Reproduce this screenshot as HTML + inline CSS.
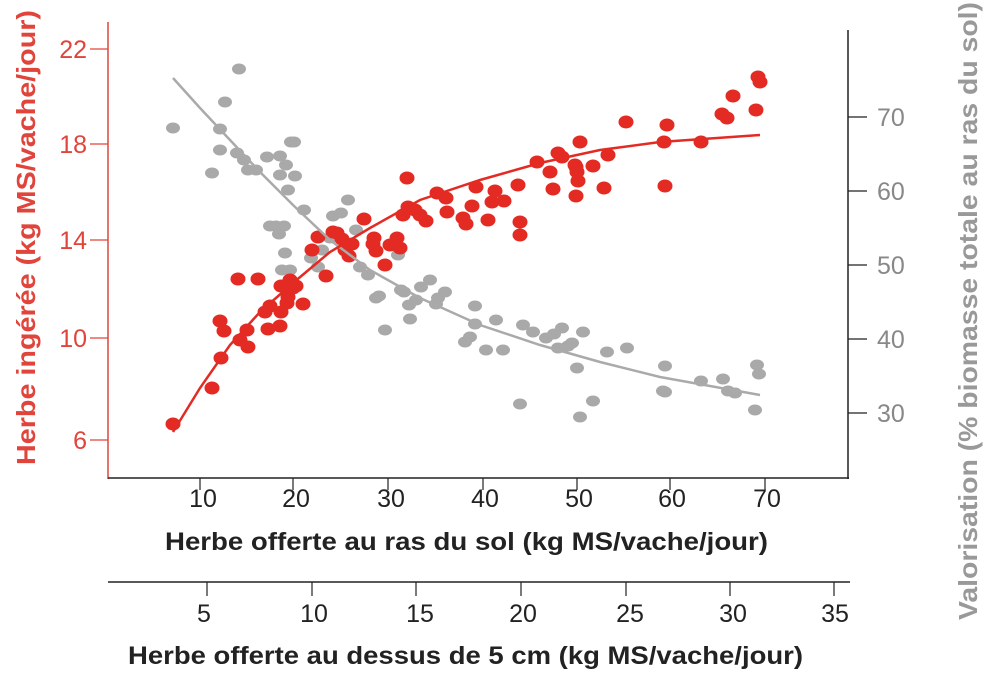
<!DOCTYPE html>
<html><head><meta charset="utf-8"><style>
body{margin:0;background:#fff;width:1002px;height:673px;overflow:hidden}
svg{display:block}
text{font-family:"Liberation Sans",Arial,sans-serif}
</style></head><body>
<svg width="1002" height="673" viewBox="0 0 1002 673">
<line x1="108" y1="22" x2="108" y2="479" stroke="#e0443b" stroke-width="1.5"/>
<line x1="108" y1="478" x2="849" y2="478" stroke="#222" stroke-width="1.5"/>
<line x1="848" y1="30" x2="848" y2="479" stroke="#222" stroke-width="1.5"/>
<line x1="108" y1="582" x2="850" y2="582" stroke="#222" stroke-width="1.5"/>
<g stroke="#e0443b" stroke-width="1.2">
<line x1="90" y1="49" x2="108" y2="49"/><line x1="90" y1="144" x2="108" y2="144"/><line x1="90" y1="240" x2="108" y2="240"/><line x1="90" y1="338" x2="108" y2="338"/><line x1="90" y1="440" x2="108" y2="440"/>
</g>
<g fill="#e0443b" font-size="25" text-anchor="end">
<text x="87" y="58">22</text><text x="87" y="153">18</text><text x="87" y="249">14</text><text x="87" y="347">10</text><text x="87" y="449">6</text>
</g>
<g stroke="#222" stroke-width="1.2">
<line x1="848" y1="117" x2="867" y2="117"/><line x1="848" y1="191" x2="867" y2="191"/><line x1="848" y1="265" x2="867" y2="265"/><line x1="848" y1="339" x2="867" y2="339"/><line x1="848" y1="413" x2="867" y2="413"/>
<line x1="200" y1="478" x2="200" y2="490"/><line x1="293" y1="478" x2="293" y2="490"/><line x1="388" y1="478" x2="388" y2="490"/><line x1="483" y1="478" x2="483" y2="490"/><line x1="577" y1="478" x2="577" y2="490"/><line x1="670" y1="478" x2="670" y2="490"/><line x1="765" y1="478" x2="765" y2="490"/>
<line x1="207" y1="582" x2="207" y2="596"/><line x1="312" y1="582" x2="312" y2="596"/><line x1="416" y1="582" x2="416" y2="596"/><line x1="521" y1="582" x2="521" y2="596"/><line x1="626" y1="582" x2="626" y2="596"/><line x1="730" y1="582" x2="730" y2="596"/><line x1="834" y1="582" x2="834" y2="596"/>
</g>
<g fill="#888" font-size="25">
<text x="877" y="126">70</text><text x="877" y="200">60</text><text x="877" y="274">50</text><text x="877" y="348">40</text><text x="877" y="422">30</text>
</g>
<g fill="#222" font-size="25" text-anchor="middle">
<text x="203" y="507">10</text><text x="296" y="507">20</text><text x="391" y="507">30</text><text x="485" y="507">40</text><text x="579" y="507">50</text><text x="672" y="507">60</text><text x="767" y="507">70</text>
<text x="204" y="622">5</text><text x="314" y="622">10</text><text x="420" y="622">15</text><text x="523" y="622">20</text><text x="630" y="622">25</text><text x="733" y="622">30</text><text x="835" y="622">35</text>
</g>
<text x="165" y="550" font-size="25" font-weight="bold" fill="#222" textLength="603" lengthAdjust="spacingAndGlyphs">Herbe offerte au ras du sol (kg MS/vache/jour)</text>
<text x="128" y="664" font-size="25" font-weight="bold" fill="#222" textLength="675" lengthAdjust="spacingAndGlyphs">Herbe offerte au dessus de 5 cm (kg MS/vache/jour)</text>
<text transform="translate(35,465) rotate(-90)" font-size="26" font-weight="bold" fill="#e0443b" textLength="455" lengthAdjust="spacingAndGlyphs">Herbe ingérée (kg MS/vache/jour)</text>
<text transform="translate(977,620) rotate(-90)" font-size="26" font-weight="bold" fill="#999" textLength="618" lengthAdjust="spacingAndGlyphs">Valorisation (% biomasse totale au ras du sol)</text>
<g id="gray" fill="#a9a9a9"></g>
<g id="red" fill="#e32b24"></g>
<polyline fill="none" stroke="#aaa" stroke-width="2.5" points="173,78 200,108 230,140 260,172 293,205 330,240 370,270 420,298 480,325 540,345 600,362 660,377 760,395"/>
<polyline fill="none" stroke="#e32b24" stroke-width="2.5" points="173,432 200,388 230,345 260,312 293,283 330,252 370,228 420,200 480,180 540,163 600,150 660,142 760,135"/>
</svg>
<script>
var R=[[173,424],[212,388],[220,321],[224,331],[221,358],[238,279],[240,340],[247,330],[248,347],[258,279],[265,312],[268,329],[270,306],[281,312],[280,326],[281,286],[287,303],[293,288],[290,280],[296,286],[288,297],[303,304],[312,250],[318,237],[326,276],[333,232],[337,233],[342,239],[345,250],[349,256],[352,244],[364,219],[373,244],[374,238],[376,251],[385,265],[390,245],[397,238],[400,248],[407,178],[403,215],[408,207],[415,210],[420,215],[426,221],[437,193],[446,198],[447,212],[463,218],[466,224],[476,187],[472,206],[488,220],[492,202],[495,191],[504,201],[518,185],[520,222],[520,235],[537,162],[550,172],[553,189],[558,153],[562,157],[575,165],[576,167],[577,172],[578,181],[576,196],[580,142],[593,166],[604,188],[608,155],[626,122],[664,142],[665,186],[667,125],[701,142],[722,114],[727,118],[733,96],[756,110],[758,77],[760,82]];
var G=[[173,128],[239,69],[225,102],[220,129],[220,150],[212,173],[237,153],[244,160],[248,170],[256,170],[267,157],[280,156],[280,175],[286,165],[288,190],[294,142],[291,142],[295,176],[304,210],[270,226],[276,226],[284,226],[285,253],[290,270],[292,281],[279,234],[282,270],[311,258],[318,267],[322,250],[330,238],[333,216],[341,213],[348,200],[356,230],[360,267],[368,275],[376,298],[379,296],[385,330],[398,255],[401,290],[404,292],[410,319],[409,305],[416,300],[421,287],[430,280],[438,298],[436,304],[445,292],[465,342],[470,337],[475,306],[475,324],[486,350],[496,320],[503,350],[523,325],[533,332],[520,404],[546,338],[554,334],[558,348],[562,328],[568,346],[572,343],[577,368],[580,417],[583,332],[593,401],[607,352],[627,348],[665,366],[665,392],[663,391],[701,381],[723,379],[728,391],[735,393],[757,365],[759,374],[755,410]];
function add(id,a,rx,ry){var g=document.getElementById(id),s='';a.forEach(function(p){s+='<ellipse cx="'+p[0]+'" cy="'+p[1]+'" rx="'+rx+'" ry="'+ry+'"/>';});g.innerHTML=s;}
add('gray',G,7,5.5);add('red',R,7.5,6.5);
</script>
</body></html>
